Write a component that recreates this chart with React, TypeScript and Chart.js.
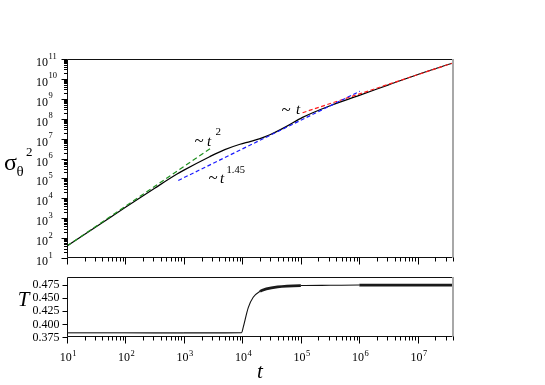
import React, { useEffect, useRef } from "react";
import { Chart, registerables } from "chart.js";

Chart.register(...registerables);

const W = 545;
const H = 385;
const SERIF = '"Liberation Serif", "Times New Roman", serif';

// ---- Top panel: sigma_theta^2 versus t (log-log) ----
const sigmaT = [10, 32, 100, 316, 750, 1000, 2750, 5000, 9100, 13500, 20000, 29500, 56000, 107000, 316000, 1e6, 3.16e6, 1e7, 4e7];
const sigmaV = [40, 380, 3550, 3.2e4, 1.6e5, 2.6e5, 1.23e6, 2.8e6, 5.2e6, 7.1e6, 1e7, 1.55e7, 4e7, 1.17e8, 4.5e8, 1.48e9, 5e9, 1.66e10, 6.3e10];

// power-law guide lines (end points)
const fitT2T = [10, 3000];
const fitT2V = [40, 3.6e6];
const fitT145T = [800, 1.02e6];
const fitT145V = [7.9e4, 2.4e9];
const fitT1T = [1.07e5, 4e7];
const fitT1V = [2.0e8, 6.3e10];

const sigmaDecadeExp = [1, 2, 3, 4, 5, 6, 7, 8, 9, 10, 11];
const tDecadeExp = [1, 2, 3, 4, 5, 6, 7];
const tMin = 10;
const tMax = 4e7;
const sigmaMin = 10;
const sigmaMax = 1e11;

// ---- Bottom panel: T versus t ----
const tempT = [10, 100, 1000, 5000, 9700, 10300, 12600, 15300, 20000, 25700, 40000, 1e5, 3.16e5, 1e6, 1e7, 4e7];
const tempV = [0.383, 0.383, 0.3828, 0.3828, 0.383, 0.393, 0.431, 0.4506, 0.462, 0.4666, 0.4705, 0.473, 0.4735, 0.474, 0.474, 0.474];
const tempTicks = [0.375, 0.4, 0.425, 0.45, 0.475];
const tempMin = 0.375;
const tempMax = 0.4893;

const pts = (xs: number[], ys: number[]) => xs.map((x, i) => ({ x, y: ys[i] }));

function drawPow10(
  ctx: CanvasRenderingContext2D,
  exp: string,
  x: number,
  baseY: number,
  align: "left" | "center",
  baseSize: number,
  expSize: number,
  raise: number
) {
  ctx.font = `${baseSize}px ${SERIF}`;
  const bw = ctx.measureText("10").width;
  ctx.font = `${expSize}px ${SERIF}`;
  const ew = ctx.measureText(exp).width;
  const gap = 0.5;
  const x0 = align === "left" ? x : x - (bw + gap + ew) / 2;
  ctx.textAlign = "left";
  ctx.textBaseline = "alphabetic";
  ctx.font = `${baseSize}px ${SERIF}`;
  ctx.fillText("10", x0, baseY);
  ctx.font = `${expSize}px ${SERIF}`;
  ctx.fillText(exp, x0 + bw + gap, baseY - raise);
}

function drawLogXTicks(ctx: CanvasRenderingContext2D, chart: any) {
  const xs = chart.scales.x;
  const a = chart.chartArea;
  ctx.strokeStyle = "#000";
  ctx.lineWidth = 1;
  for (const d of tDecadeExp) {
    for (let k = 1; k <= 9; k++) {
      const v = k * Math.pow(10, d);
      if (v > tMax) break;
      const px = Math.round(xs.getPixelForValue(v)) + 0.5;
      const len = k === 1 ? 7 : 4;
      ctx.beginPath();
      ctx.moveTo(px, a.bottom - 0.5);
      ctx.lineTo(px, a.bottom - 0.5 + len);
      ctx.stroke();
    }
  }
}

function drawFrame(ctx: CanvasRenderingContext2D, a: any) {
  ctx.lineWidth = 1;
  ctx.strokeStyle = "#111";
  ctx.beginPath();
  ctx.moveTo(a.left + 0.5, a.top + 0.5);
  ctx.lineTo(a.right, a.top + 0.5);
  ctx.moveTo(a.left + 0.5, a.top + 0.5);
  ctx.lineTo(a.left + 0.5, a.bottom - 0.5);
  ctx.lineTo(a.right, a.bottom - 0.5);
  ctx.stroke();
  ctx.strokeStyle = "#a8a8a8";
  ctx.lineWidth = 2;
  ctx.beginPath();
  ctx.moveTo(a.right, a.top);
  ctx.lineTo(a.right, a.bottom);
  ctx.stroke();
}

function tilde(ctx: CanvasRenderingContext2D, x: number, y: number) {
  ctx.font = `17px ${SERIF}`;
  ctx.fillText("~", x, y);
}

const topDecor = {
  id: "topDecor",
  afterDraw(chart: any) {
    const ctx: CanvasRenderingContext2D = chart.ctx;
    const a = chart.chartArea;
    const ys = chart.scales.y;
    ctx.save();
    drawFrame(ctx, a);
    // y ticks (outward)
    ctx.strokeStyle = "#000";
    ctx.lineWidth = 1;
    for (const d of sigmaDecadeExp) {
      for (let k = 1; k <= 9; k++) {
        const v = k * Math.pow(10, d);
        if (v > sigmaMax) break;
        const py = Math.round(ys.getPixelForValue(v)) + 0.5;
        const len = k === 1 ? 6 : 3.5;
        ctx.beginPath();
        ctx.moveTo(a.left + 0.5, py);
        ctx.lineTo(a.left + 0.5 - len, py);
        ctx.stroke();
      }
    }
    drawLogXTicks(ctx, chart);
    // y tick labels
    ctx.fillStyle = "#000";
    for (const d of sigmaDecadeExp) {
      const py = ys.getPixelForValue(Math.pow(10, d));
      drawPow10(ctx, String(d), 36, py + 7, "left", 12, 8.5, 7.5);
    }
    // y-axis title: sigma_theta^2
    ctx.fillStyle = "#000";
    ctx.textAlign = "left";
    ctx.textBaseline = "alphabetic";
    ctx.font = `24px ${SERIF}`;
    ctx.fillText("σ", 4, 170);
    ctx.font = `15px ${SERIF}`;
    ctx.fillText("θ", 16.5, 175.5);
    ctx.font = `13px ${SERIF}`;
    ctx.fillText("2", 26, 155.5);
    // power-law annotations
    tilde(ctx, 194.5, 146);
    ctx.font = `italic 15px ${SERIF}`;
    ctx.fillText("t", 207, 145.5);
    ctx.font = `11px ${SERIF}`;
    ctx.fillText("2", 215.5, 135);

    tilde(ctx, 208.5, 183);
    ctx.font = `italic 15px ${SERIF}`;
    ctx.fillText("t", 220, 182.5);
    ctx.font = `10.5px ${SERIF}`;
    ctx.fillText("1.45", 226.5, 173);

    tilde(ctx, 281.5, 115);
    ctx.font = `italic 15px ${SERIF}`;
    ctx.fillText("t", 296, 114);
    ctx.restore();
  },
};

const botDecor = {
  id: "botDecor",
  afterDraw(chart: any) {
    const ctx: CanvasRenderingContext2D = chart.ctx;
    const a = chart.chartArea;
    const ys = chart.scales.y;
    const xs = chart.scales.x;
    ctx.save();
    drawFrame(ctx, a);
    ctx.strokeStyle = "#000";
    ctx.lineWidth = 1;
    for (const v of tempTicks) {
      const py = Math.round(ys.getPixelForValue(v)) + 0.5;
      ctx.beginPath();
      ctx.moveTo(a.left + 0.5, py);
      ctx.lineTo(a.left + 0.5 - 5, py);
      ctx.stroke();
    }
    drawLogXTicks(ctx, chart);
    ctx.fillStyle = "#000";
    ctx.font = `12px ${SERIF}`;
    ctx.textAlign = "right";
    ctx.textBaseline = "middle";
    for (const v of tempTicks) {
      ctx.fillText(v.toFixed(3), 59.5, ys.getPixelForValue(v) + 0.5);
    }
    for (const d of tDecadeExp) {
      const px = xs.getPixelForValue(Math.pow(10, d));
      drawPow10(ctx, String(d), px + 1, 361, "center", 12, 8.5, 5);
    }
    ctx.fillStyle = "#000";
    ctx.font = `italic 21px ${SERIF}`;
    ctx.textAlign = "center";
    ctx.textBaseline = "alphabetic";
    ctx.fillText("T", 23.5, 306);
    ctx.fillText("t", 260, 377.5);
    ctx.restore();
  },
};

export default function App() {
  const topRef = useRef<HTMLCanvasElement>(null);
  const botRef = useRef<HTMLCanvasElement>(null);

  useEffect(() => {
    const top = new Chart(topRef.current as HTMLCanvasElement, {
      type: "line",
      data: {
        datasets: [
          {
            data: pts(fitT2T, fitT2V),
            borderColor: "#1f8f1f",
            borderWidth: 1.2,
            borderDash: [5, 3],
            pointRadius: 0,
          },
          {
            data: pts(fitT145T, fitT145V),
            borderColor: "#1a1aff",
            borderWidth: 1.2,
            borderDash: [4, 2.5],
            pointRadius: 0,
          },
          {
            data: pts(fitT1T, fitT1V),
            borderColor: "#ff1a1a",
            borderWidth: 1.2,
            borderDash: [4, 2.5],
            pointRadius: 0,
          },
          {
            data: pts(sigmaT, sigmaV),
            borderColor: "#000",
            borderWidth: 1.2,
            pointRadius: 0,
            cubicInterpolationMode: "monotone",
          },
        ],
      },
      options: {
        responsive: false,
        animation: false,
        events: [],
        layout: { padding: { left: 67, right: 92, top: 59, bottom: 127 } },
        plugins: { legend: { display: false }, tooltip: { enabled: false } },
        scales: {
          x: { type: "logarithmic", min: tMin, max: tMax, display: false },
          y: { type: "logarithmic", min: sigmaMin, max: sigmaMax, display: false },
        },
      },
      plugins: [topDecor],
    } as any);

    const bot = new Chart(botRef.current as HTMLCanvasElement, {
      type: "line",
      data: {
        datasets: [
          {
            data: pts(tempT, tempV),
            borderColor: "#111",
            borderWidth: 1.1,
            pointRadius: 0,
            borderJoinStyle: "round",
            cubicInterpolationMode: "monotone",
            segment: {
              borderWidth: (c: any) => {
                const t = c.p0.parsed.x;
                if (t < 1000) return 1.6;
                if (t >= 20000 && t < 1e5) return 2.8;
                if (t >= 1e6) return 2.8;
                return 1.1;
              },
              borderColor: (c: any) => {
                const t = c.p0.parsed.x;
                if (t < 1000) return "#555";
                if (t >= 20000 && t < 1e5) return "#1a1a1a";
                if (t >= 1e6) return "#1a1a1a";
                return "#111";
              },
            },
          },
        ],
      },
      options: {
        responsive: false,
        animation: false,
        events: [],
        layout: { padding: { left: 67, right: 92, top: 277, bottom: 48 } },
        plugins: { legend: { display: false }, tooltip: { enabled: false } },
        scales: {
          x: { type: "logarithmic", min: tMin, max: tMax, display: false },
          y: { type: "linear", min: tempMin, max: tempMax, display: false },
        },
      },
      plugins: [botDecor],
    } as any);

    return () => {
      top.destroy();
      bot.destroy();
    };
  }, []);

  return (
    <div style={{ position: "absolute", left: 0, top: 0, width: W, height: H, background: "#fff" }}>
      <canvas ref={topRef} width={W} height={H} style={{ position: "absolute", left: 0, top: 0 }} />
      <canvas ref={botRef} width={W} height={H} style={{ position: "absolute", left: 0, top: 0 }} />
    </div>
  );
}
